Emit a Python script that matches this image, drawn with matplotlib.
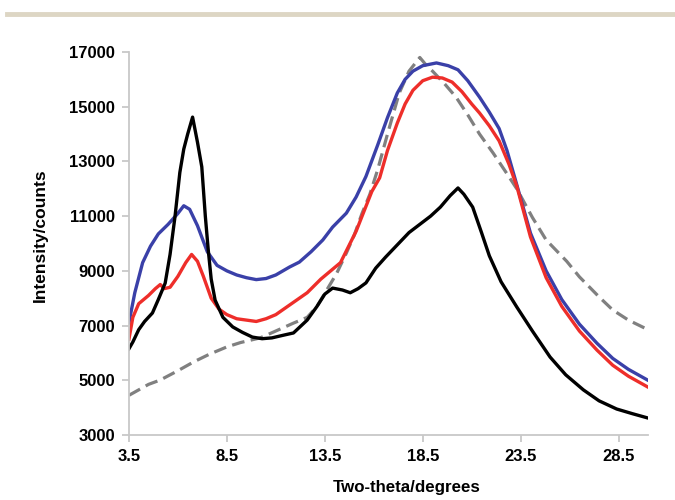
import matplotlib
matplotlib.use("Agg")
import matplotlib.pyplot as plt
from matplotlib.lines import Line2D

plt.rcParams['font.family'] = ['Liberation Sans', 'DejaVu Sans']

# black trace
x_black = [3.5, 3.7, 4.0, 4.3, 4.7, 5.0, 5.35, 5.6, 5.85, 6.1, 6.3, 6.5, 6.75, 7.0, 7.22,
           7.4, 7.55, 7.7, 7.9, 8.3, 8.8, 9.3, 9.8, 10.3, 10.8, 11.4, 11.9, 12.6, 13.1,
           13.5, 13.9, 14.4, 14.8, 15.2, 15.6, 16.1, 16.6, 17.2, 17.8, 18.35, 18.9, 19.4,
           19.9, 20.3, 20.6, 21.05, 21.5, 21.9, 22.5, 23.3, 24.1, 25.0, 25.8, 26.7, 27.5,
           28.4, 29.2, 30.0]
y_black = [6150, 6400, 6850, 7150, 7460, 7950, 8550, 9600, 10970, 12600, 13450, 14000,
           14620, 13700, 12800, 11000, 9760, 8700, 7930, 7300, 6950, 6750, 6580, 6520,
           6550, 6650, 6730, 7200, 7700, 8150, 8370, 8300, 8200, 8350, 8560, 9100, 9500,
           9950, 10400, 10700, 11000, 11330, 11750, 12030, 11800, 11330, 10400, 9550,
           8600, 7680, 6800, 5850, 5200, 4650, 4250, 3950, 3780, 3620]

# blue trace
x_blue = [3.5, 3.8, 4.2, 4.6, 5.0, 5.5, 6.0, 6.3, 6.6, 7.0, 7.5, 8.0, 8.5, 9.0, 9.5,
          10.0, 10.5, 11.0, 11.7, 12.2, 12.8, 13.4, 13.9, 14.6, 15.1, 15.6, 16.2, 16.7,
          17.2, 17.6, 18.0, 18.5, 19.2, 19.8, 20.3, 20.8, 21.4, 21.9, 22.4, 22.8, 23.3,
          24.0, 24.8, 25.6, 26.5, 27.4, 28.2, 29.0, 30.0]
y_blue = [7100, 8200, 9300, 9900, 10350, 10700, 11100, 11380, 11250, 10650, 9700, 9200,
          9000, 8850, 8750, 8680, 8720, 8850, 9140, 9320, 9700, 10130, 10600, 11110,
          11700, 12450, 13600, 14600, 15500, 16000, 16300, 16500, 16600, 16500, 16350,
          15950, 15350, 14800, 14200, 13400, 12150, 10380, 9000, 7950, 7050, 6350, 5800,
          5400, 5000]

# red trace
x_red = [3.5, 3.7, 4.0, 4.5, 4.85, 5.1, 5.3, 5.6, 6.0, 6.4, 6.7, 7.0, 7.3, 7.7, 8.1,
         8.5, 9.0, 9.5, 10.0, 10.5, 11.0, 11.9, 12.6, 13.3, 14.3, 15.1, 15.9, 16.3, 16.7,
         17.2, 17.6, 18.0, 18.5, 19.0, 19.5, 20.0, 20.5, 21.0, 21.4, 21.9, 22.4, 22.9,
         23.3, 24.0, 24.8, 25.6, 26.5, 27.4, 28.2, 29.0, 30.0]
y_red = [6500, 7300, 7800, 8100, 8350, 8500, 8350, 8400, 8800, 9300, 9600, 9350, 8800,
         8000, 7600, 7400, 7250, 7200, 7150, 7250, 7400, 7850, 8200, 8700, 9300, 10450,
         11900, 12400, 13400, 14400, 15100, 15600, 15950, 16080, 16050, 15900, 15550,
         15100, 14770, 14300, 13750, 12900, 12100, 10240, 8750, 7700, 6800, 6100, 5550,
         5150, 4750]

# grey dashed trace
x_grey = [3.5, 4.0, 4.5, 5.1, 6.0, 6.8, 7.6, 8.5, 9.2, 10.2, 10.9, 11.9, 12.6, 13.1,
          13.6, 14.1, 14.6, 15.0, 15.4, 15.8, 16.2, 16.7, 17.3, 17.8, 18.35, 18.7, 19.0,
          19.6, 20.2, 20.8, 21.4, 22.1, 22.8, 23.3, 24.1, 24.8, 25.85, 26.5, 27.5, 28.2,
          29.0, 30.0]
y_grey = [4450, 4650, 4850, 5010, 5350, 5670, 5950, 6220, 6380, 6550, 6770, 7090, 7300,
          7700, 8300, 8900, 9650, 10300, 11100, 11800, 12700, 14000, 15500, 16300, 16800,
          16500, 16300, 15850, 15350, 14700, 14000, 13300, 12550, 12000, 10950, 10130,
          9350, 8780, 8050, 7570, 7200, 6850]

x_ticks = [3.5, 8.5, 13.5, 18.5, 23.5, 28.5]
y_ticks = [3000, 5000, 7000, 9000, 11000, 13000, 15000, 17000]

fig = plt.figure(figsize=(6.75, 5), dpi=100)
ax = fig.add_axes([0.191, 0.13, 0.769, 0.766])

# thin beige band across the top of the page
fig.add_artist(Line2D([0.01, 1.0], [0.972, 0.972], transform=fig.transFigure,
                      color='#ddd6c4', lw=3.5))

ax.plot(x_grey, y_grey, color='#808080', lw=2.3, ls=(0, (4, 2)))
ax.plot(x_blue, y_blue, color='#3a40a8', lw=2.4)
ax.plot(x_red, y_red, color='#ee2e2a', lw=2.4)
ax.plot(x_black, y_black, color='black', lw=2.4)

ax.set_xlim(3.5, 30)
ax.set_ylim(3000, 17000)
ax.set_xticks(x_ticks)
ax.set_xticklabels([str(t) for t in x_ticks])
ax.set_yticks(y_ticks)
for s in ['top', 'right']:
    ax.spines[s].set_visible(False)
for s in ['left', 'bottom']:
    ax.spines[s].set_color('#c8c8c8')
    ax.spines[s].set_linewidth(1.3)
ax.tick_params(axis='both', colors='#c8c8c8', length=5, width=1.3, labelcolor='black',
               labelsize=12, pad=5)
for lab in ax.get_xticklabels() + ax.get_yticklabels():
    lab.set_fontweight('bold')

ax.set_xlabel('Two-theta/degrees', fontsize=12.2, fontweight='bold')
ax.set_ylabel('Intensity/counts', fontsize=12.5, fontweight='bold')
ax.xaxis.set_label_coords(0.536, -0.118)
ax.yaxis.set_label_coords(-0.156, 0.522)

fig.savefig('out.png', dpi=100)
